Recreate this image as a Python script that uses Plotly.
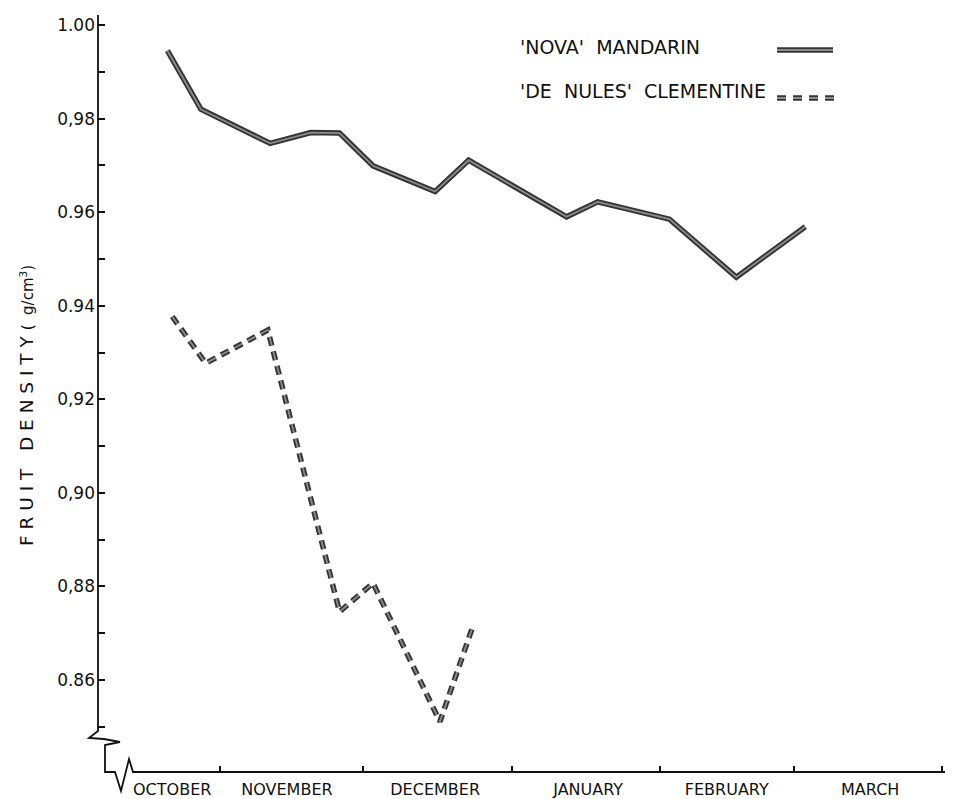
import plotly.graph_objects as go

# ---------------- data ----------------
nova_dates = ["1984-10-21", "1984-10-28", "1984-11-11 12:00", "1984-11-20", "1984-11-26",
              "1984-12-03", "1984-12-16", "1984-12-23", "1985-01-12 12:00", "1985-01-19",
              "1985-02-03", "1985-02-17", "1985-03-03 10:00"]
nova_density = [0.9945, 0.9820, 0.9747, 0.9770, 0.9769,
                0.9699, 0.9644, 0.9711, 0.9590, 0.9622,
                0.9585, 0.9461, 0.9569]

clem_dates = ["1984-10-22", "1984-10-29", "1984-11-11", "1984-11-26", "1984-12-03",
              "1984-12-17", "1984-12-24"]
clem_density = [0.9377, 0.9277, 0.9348, 0.8746, 0.8807, 0.8511, 0.8718]

month_labels = ["OCTOBER", "NOVEMBER", "DECEMBER", "JANUARY", "FEBRUARY", "MARCH"]
month_label_pos = ["1984-10-22", "1984-11-15", "1984-12-16", "1985-01-17", "1985-02-15", "1985-03-17"]
month_starts = ["1984-11-01", "1984-12-01", "1985-01-01", "1985-02-01", "1985-03-01", "1985-04-01"]

y_tickvals = [0.86, 0.88, 0.90, 0.92, 0.94, 0.96, 0.98, 1.00]
y_ticktext = ["0.86", "0,88", "0,90", "0,92", "0.94", "0.96", "0,98", "1.00"]
y_minor = [0.85, 0.87, 0.89, 0.91, 0.93, 0.95, 0.97, 0.99]

names = ["'NOVA'  MANDARIN", "'DE  NULES'  CLEMENTINE"]
y_title = "F R U I T   D E N S I T Y"
y_unit = "(  g/cm<sup>3</sup>)"

# ---------------- layout helpers (page pixel -> paper) ----------------
OFF = 8                     # the page body margin shifts the figure by this much
W, H = 953 - OFF, 799 - OFF
L, R, T, B = 98 - OFF, 948 - OFF, 15 - OFF, 772 - OFF


def px(x):
    return (x - OFF - L) / (R - L)


def py(y):
    return (B - (y - OFF)) / (B - T)


DARK = "#333333"
MID = "#8c8c8c"
DASH = "9px,6px"

fig = go.Figure()

# Nova mandarin: solid double-stroke line
fig.add_trace(go.Scatter(x=nova_dates, y=nova_density, mode="lines",
                         line=dict(color=DARK, width=5.5), name=names[0],
                         showlegend=False, hoverinfo="skip"))
fig.add_trace(go.Scatter(x=nova_dates, y=nova_density, mode="lines",
                         line=dict(color=MID, width=1.8), name=names[0],
                         showlegend=False))
# De Nules clementine: dashed double-stroke line
fig.add_trace(go.Scatter(x=clem_dates, y=clem_density, mode="lines",
                         line=dict(color=DARK, width=5.5, dash=DASH), name=names[1],
                         showlegend=False, hoverinfo="skip"))
fig.add_trace(go.Scatter(x=clem_dates, y=clem_density, mode="lines",
                         line=dict(color=MID, width=1.8, dash=DASH), name=names[1],
                         showlegend=False))

font_main = "DejaVu Sans"

# axis lines with breaks (decoration), in page pixels
axis_pts = [(98, 15), (98, 731), (89, 738), (104, 739), (120, 742), (105, 745), (105, 772),
            (115, 772), (121, 791), (129, 759), (133, 772), (948, 772)]
path = "M " + " L ".join(f"{px(x):.5f},{py(y):.5f}" for x, y in axis_pts)

shapes = [
    dict(type="path", path=path, xref="paper", yref="paper",
         line=dict(color="#111", width=1.8)),
    # legend samples
    dict(type="line", xref="paper", yref="paper", x0=px(777), x1=px(833), y0=py(50), y1=py(50),
         line=dict(color=DARK, width=5.5)),
    dict(type="line", xref="paper", yref="paper", x0=px(777), x1=px(833), y0=py(50), y1=py(50),
         line=dict(color=MID, width=1.8)),
    dict(type="line", xref="paper", yref="paper", x0=px(777), x1=px(834), y0=py(98), y1=py(98),
         line=dict(color=DARK, width=5.5, dash="9px,7px")),
    dict(type="line", xref="paper", yref="paper", x0=px(777), x1=px(834), y0=py(98), y1=py(98),
         line=dict(color=MID, width=1.8, dash="9px,7px")),
]

annotations = [
    dict(text=names[0], x=px(518), y=py(47), xref="paper", yref="paper",
         xanchor="left", yanchor="middle", showarrow=False,
         font=dict(family=font_main, size=19, color="#111")),
    dict(text=names[1], x=px(518), y=py(91), xref="paper", yref="paper",
         xanchor="left", yanchor="middle", showarrow=False,
         font=dict(family=font_main, size=19, color="#111")),
    dict(text=f"{y_title} <span style='font-size:15px'>{y_unit}</span>",
         x=px(26), y=py(406), xref="paper", yref="paper", textangle=-90,
         xanchor="center", yanchor="middle", showarrow=False,
         font=dict(family=font_main, size=18.5, color="#111")),
]

fig.update_layout(
    width=W, height=H,
    margin=dict(l=L, r=W - R, t=T, b=H - B, pad=0, autoexpand=False),
    paper_bgcolor="white", plot_bgcolor="white",
    showlegend=False,
    shapes=shapes, annotations=annotations,
    xaxis=dict(type="date", range=["1984-10-06 11:30", "1985-04-02 06:30"],
               automargin=False,
               tickmode="array", tickvals=month_label_pos, ticktext=month_labels,
               ticks="", showgrid=False, zeroline=False, showline=False,
               ticklabelstandoff=6,
               tickfont=dict(family=font_main, size=16, color="#111"),
               minor=dict(tickmode="array", tickvals=month_starts, ticks="inside",
                          ticklen=6, tickwidth=1.5, tickcolor="#111", showgrid=False)),
    yaxis=dict(range=[0.84034, 1.00214], tickmode="array", automargin=False,
               tickvals=y_tickvals, ticktext=y_ticktext,
               ticks="inside", ticklen=7, tickwidth=1.5, tickcolor="#111",
               showgrid=False, zeroline=False, showline=False,
               ticklabelstandoff=2,
               tickfont=dict(family=font_main, size=17, color="#111"),
               minor=dict(tickmode="array", tickvals=y_minor, ticks="inside",
                          ticklen=7, tickwidth=1.5, tickcolor="#111", showgrid=False)),
)

fig.write_html("out.html")
